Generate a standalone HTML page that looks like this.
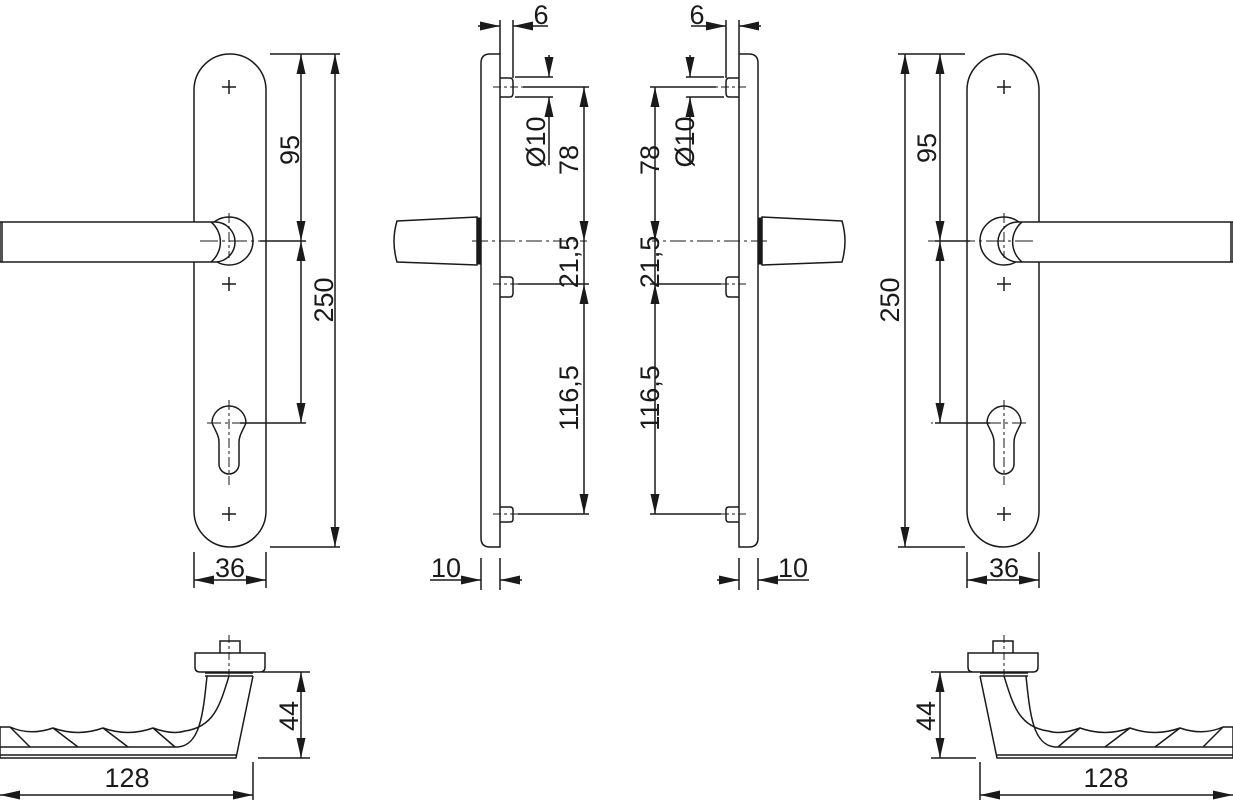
<!DOCTYPE html>
<html><head><meta charset="utf-8"><style>
html,body{margin:0;padding:0;background:#fff}
svg{display:block}
text{font-family:"Liberation Sans",sans-serif;font-size:27px;fill:#1a1a1a}
</style></head><body>
<svg width="1233" height="800" viewBox="0 0 1233 800" xmlns="http://www.w3.org/2000/svg">
<defs>
<marker id="a" viewBox="0 0 20 9" refX="20" refY="4.5" markerWidth="20" markerHeight="9" markerUnits="userSpaceOnUse" orient="auto-start-reverse">
<path d="M0,0 L20,4.5 L0,9 Z" fill="#1a1a1a"/></marker>
</defs>
<g fill="none" stroke="#1a1a1a" stroke-width="1.5">

<g id="front">
<path d="M194,90 A36,36 0 0 1 266,90 L266,511 A36,36 0 0 1 194,511 Z" fill="#fff"/>
<path d="M222,87 h14 M229,80 v14 M222,284 h14 M229,277 v14 M222,514 h14 M229,507 v14"/>
<circle cx="229" cy="241" r="24" fill="#fff"/>
<path d="M0,222 L215,222 A20,20 0 0 1 215,262 L0,262 Z" fill="#fff"/>
<path d="M2,222 L2,262" />
<path d="M211,222 A26,26 0 0 1 211,262" />
<path d="M200,241 h106" stroke-dasharray="18,4,3,4" stroke-width="1.1"/>
<path d="M229,213 v45" stroke-dasharray="10,3,3,3" stroke-width="1"/>
<path d="M212,423 A17,17 0 1 1 246,423 C242,432 239,436 239,442 L239,464 A10,10 0 0 1 219,464 L219,442 C219,436 216,432 212,423 Z" fill="#fff"/>
<path d="M229,400 v85" stroke-dasharray="10,3,3,3" stroke-width="1"/>
<path d="M207,423 h95" stroke-dasharray="14,4,3,4" stroke-width="1.1"/>

<path d="M195,653 L265,653 L265,667 Q265,672 260,672 L200,672 Q195,672 195,667 Z" fill="#fff"/>
<path d="M220,653 L220,641 L240,641 L240,653"/>
<path d="M205,673 L253,673 M205,676 L253,676"/>
<path d="M253,676 L236,758 L0,758 L0,727 L10,727 Q30,736 53,728 Q78,737 103,728 Q128,737 153,728 Q172,735 185,731 C214,727 220,705 229,676"/>
<path d="M207,676 C203,715 200,745 178,747 L0,747"/>
<path d="M0,755 L236,755"/>
<path d="M10,727 L30,747 M53,728 L78,747 M103,728 L128,747 M153,728 L175,747"/>
<path d="M229,635 v40" stroke-dasharray="8,3,3,3" stroke-width="1"/>
</g>
<use href="#front" transform="translate(1233,0) scale(-1,1)"/>

<g id="side">
<path d="M500,54 L490,54 Q481,54 481,63 L481,538 Q481,547 490,547 L500,547 Z" fill="#fff"/>
<path d="M500,78 L510,78 Q513,78 513,82 L513,93 Q513,97 510,97 L500,97"/>
<path d="M500,277 L510,277 Q513,277 513,280 L513,293 Q513,297 510,297 L500,297"/>
<path d="M500,507 L510,507 Q513,507 513,510 L513,519 Q513,522 510,522 L500,522"/>
<path d="M397,221 L477,217 L477,265 L397,262 Q391,241 397,221 Z" fill="#fff"/>
<path d="M477,218 h4 v46 h-4" fill="#1a1a1a" stroke-width="1"/>
<path d="M472,241 h115" stroke-dasharray="16,4,3,4" stroke-width="1.1"/>
<path d="M493,87 h30" stroke-dasharray="8,3,3,3" stroke-width="1.1"/>
<path d="M523,87 h66"/>
<path d="M493,284 h25" stroke-dasharray="8,3,3,3" stroke-width="1.1"/>
<path d="M518,284 h71"/>
<path d="M493,514 h25" stroke-dasharray="8,3,3,3" stroke-width="1.1"/>
<path d="M518,514 h71"/>
<path d="M500,20 V54 M513,20 V78"/>
<path d="M478,26 H500" marker-end="url(#a)"/>
<path d="M548,26 H513" marker-end="url(#a)"/>
<path d="M515,77 H553 M515,97 H553"/>
<path d="M549,55 V77" marker-end="url(#a)"/>
<path d="M549,165 V97" marker-end="url(#a)"/>
<path d="M584,87 V241" marker-start="url(#a)" marker-end="url(#a)"/>
<path d="M584,241 V284" />
<path d="M584,284 V514" marker-start="url(#a)" marker-end="url(#a)"/>
<path d="M481,558 V590 M500,558 V590"/>
<path d="M430,580 H481" marker-end="url(#a)"/>
<path d="M522,580 H500" marker-end="url(#a)"/>
</g>
<use href="#side" transform="translate(1239,0) scale(-1,1)"/>

<path d="M270,54 H340 M270,547 H340 M240,423 H306 M260,241 H306"/>
<path d="M301,54 V241" marker-start="url(#a)" marker-end="url(#a)"/>
<path d="M301,241 V423" marker-start="url(#a)" marker-end="url(#a)"/>
<path d="M335,54 V547" marker-start="url(#a)" marker-end="url(#a)"/>
<path d="M194,552 V588 M266,552 V588"/>
<path d="M194,580 H266" marker-start="url(#a)" marker-end="url(#a)"/>
<path d="M898,54 H965 M898,547 H965 M935,423 H990 M935,241 H970"/>
<path d="M940,54 V241" marker-start="url(#a)" marker-end="url(#a)"/>
<path d="M940,241 V423" marker-start="url(#a)" marker-end="url(#a)"/>
<path d="M905,54 V547" marker-start="url(#a)" marker-end="url(#a)"/>
<path d="M967,552 V588 M1039,552 V588"/>
<path d="M967,580 H1039" marker-start="url(#a)" marker-end="url(#a)"/>

<path d="M262,672 H310 M258,758 H310"/>
<path d="M301,672 V758" marker-start="url(#a)" marker-end="url(#a)"/>
<path d="M253,762 V800"/>
<path d="M0,795 H253" marker-start="url(#a)" marker-end="url(#a)"/>
<path d="M931,672 H972 M931,758 H976"/>
<path d="M940,672 V758" marker-start="url(#a)" marker-end="url(#a)"/>
<path d="M980,762 V800"/>
<path d="M980,795 H1233" marker-start="url(#a)" marker-end="url(#a)"/>
</g>

<text transform="translate(299,150) rotate(-90)" text-anchor="middle">95</text>
<text transform="translate(333,300) rotate(-90)" text-anchor="middle">250</text>
<text x="230" y="577" text-anchor="middle">36</text>
<text transform="translate(936,148) rotate(-90)" text-anchor="middle">95</text>
<text transform="translate(899,300) rotate(-90)" text-anchor="middle">250</text>
<text x="1004" y="577" text-anchor="middle">36</text>

<text x="541" y="24" text-anchor="middle">6</text>
<text transform="translate(545,142) rotate(-90)" text-anchor="middle">Ø10</text>
<text transform="translate(578,160) rotate(-90)" text-anchor="middle">78</text>
<text transform="translate(578,262) rotate(-90)" text-anchor="middle">21,5</text>
<text transform="translate(578,398) rotate(-90)" text-anchor="middle">116,5</text>
<text x="446" y="577" text-anchor="middle">10</text>

<text x="697" y="24" text-anchor="middle">6</text>
<text transform="translate(694,142) rotate(-90)" text-anchor="middle">Ø10</text>
<text transform="translate(659,160) rotate(-90)" text-anchor="middle">78</text>
<text transform="translate(659,262) rotate(-90)" text-anchor="middle">21,5</text>
<text transform="translate(659,398) rotate(-90)" text-anchor="middle">116,5</text>
<text x="793" y="577" text-anchor="middle">10</text>

<text transform="translate(298,716) rotate(-90)" text-anchor="middle">44</text>
<text x="127" y="787" text-anchor="middle">128</text>
<text transform="translate(935,716) rotate(-90)" text-anchor="middle">44</text>
<text x="1106" y="787" text-anchor="middle">128</text>
</svg>
</body></html>
